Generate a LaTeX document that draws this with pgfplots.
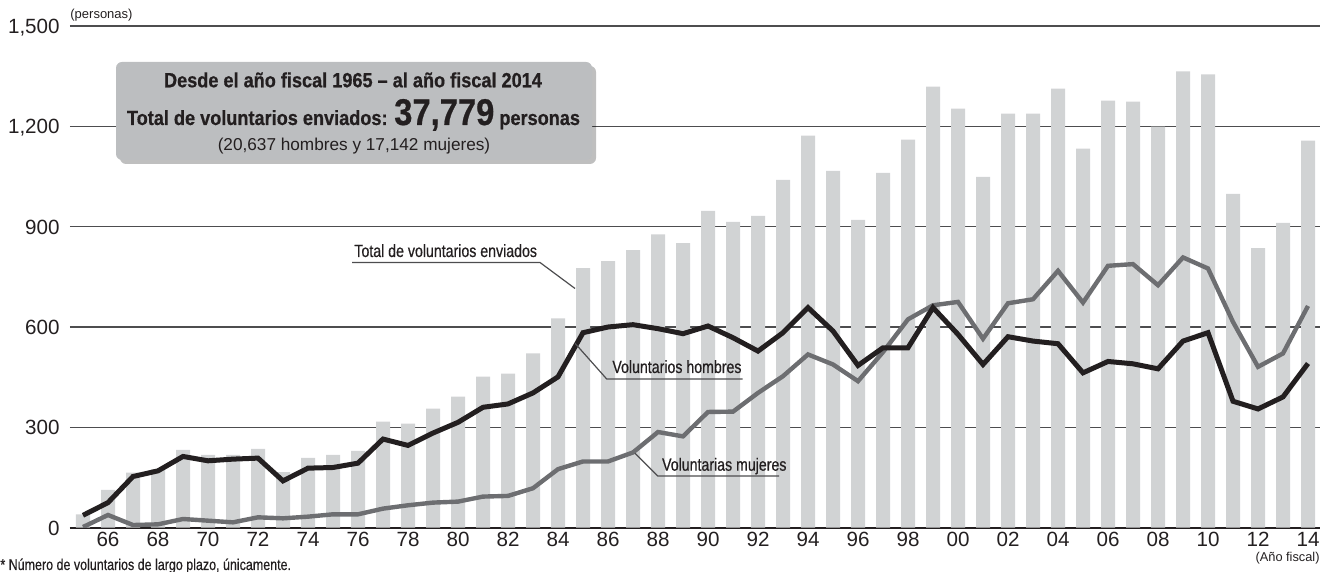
\documentclass[border=0pt]{standalone}
\usepackage{fontspec}
\setmainfont{Liberation Sans}
\newfontfamily\condfont[FakeStretch=0.8, FakeBold=0.5]{Liberation Sans}
\newfontface\boxbold[FakeStretch=0.88, FakeBold=0.6]{Liberation Sans Bold}
\usepackage{pgfplots}
\pgfplotsset{compat=1.18}
\usetikzlibrary{shadows}

\definecolor{barcol}{HTML}{D1D3D4}
\definecolor{mencol}{HTML}{231F20}
\definecolor{womencol}{HTML}{6D6E71}
\definecolor{gridcol}{HTML}{4D4D4F}
\definecolor{boxcol}{HTML}{BCBEC0}
\definecolor{textcol}{HTML}{231F20}

% index 0 = fiscal year 1965 ... 49 = 2014
\pgfplotstableread{
x total men women
0 40 37 2
1 113 75 38
2 165 153 8
3 175 170 10
4 233 213 26
5 218 200 21
6 218 205 16
7 236 208 31
8 166 140 28
9 209 178 33
10 218 180 40
11 230 193 40
12 317 265 57
13 311 246 67
14 356 283 75
15 392 315 78
16 452 360 93
17 461 370 95
18 521 403 118
19 626 451 175
20 776 583 198
21 797 600 198
22 830 607 225
23 877 595 286
24 851 580 273
25 947 603 346
26 914 568 347
27 932 528 403
28 1040 583 453
29 1172 658 518
30 1067 588 488
31 920 485 438
32 1061 538 525
33 1160 538 623
34 1319 658 665
35 1253 578 675
36 1049 488 565
37 1238 571 671
38 1238 558 683
39 1313 550 768
40 1133 463 673
41 1277 497 783
42 1274 490 788
43 1199 475 725
44 1364 558 808
45 1355 583 775
46 998 378 615
47 836 355 481
48 911 391 521
49 1157 491 663
}\datatable

\begin{document}
\begin{tikzpicture}
\begin{axis}[
  at={(0,0)}, anchor=south west,
  scale only axis,
  width=625pt, height=250.85pt,
  xmin=-0.52, xmax=49.48,
  ymin=0, ymax=1500,
  axis x line*=bottom, axis y line*=left,
  x axis line style={line width=1pt, color=mencol},
  y axis line style={draw=none},
  ytick={0,300,600,900,1200,1500},
  yticklabels={0,300,600,900,{1,200},{1,500}},
  xtick={1,3,...,49},
  xticklabels={66,68,70,72,74,76,78,80,82,84,86,88,90,92,94,96,98,00,02,04,06,08,10,12,14},
  ymajorgrids,
  grid style={color=gridcol, line width=0.6pt},
  major tick length=0pt,
  tick style={draw=none},
  /pgf/number format/assume math mode=true,
  tick label style={font=\fontsize{10.3}{12}\selectfont, text=textcol},
  yticklabel style={anchor=base east, inner sep=0pt, xshift=-5pt, yshift=-3.7pt},
  xticklabel style={anchor=north, inner sep=0pt, yshift=-2.2pt},
]
\addplot[ybar, bar width=7pt, fill=barcol, draw=none] table[x=x, y=total] {\datatable};
\addplot[womencol, line width=2.2pt, mark=none] table[x=x, y=women] {\datatable};
\addplot[mencol, line width=2.5pt, mark=none] table[x=x, y=men] {\datatable};
\end{axis}

% summary box
\path[fill=boxcol, rounded corners=3pt,
  drop shadow={shadow xshift=2pt, shadow yshift=-2pt, fill=black, opacity=0.25}]
  (23pt,183.85pt) rectangle (261pt,232.85pt);
\node[anchor=base, inner sep=0pt, text=textcol] at (141.5pt,220.2pt)
  {\boxbold\fontsize{10.3}{12}\selectfont Desde el año fiscal 1965 – al año fiscal 2014};
\node[anchor=base, inner sep=0pt, text=textcol] at (141.75pt,201.35pt)
  {\boxbold\fontsize{10.3}{12}\selectfont Total de voluntarios enviados: {\fontsize{18.6}{20}\selectfont 37,779} personas};
\node[anchor=base, inner sep=0pt, text=textcol] at (142pt,188.5pt)
  {\fontsize{8.6}{10}\selectfont (20,637 hombres y 17,142 mujeres)};

% series callouts
\draw[gridcol, line width=0.6pt] (141pt,132.6pt) -- (235pt,132.6pt) -- (252.5pt,119.6pt);
\node[anchor=base west, inner sep=0pt, text=textcol] at (142pt,135.35pt)
  {\condfont\fontsize{8.85}{10}\selectfont Total de voluntarios enviados};
\draw[gridcol, line width=0.6pt] (336.35pt,74.35pt) -- (268.35pt,74.35pt) -- (252.5pt,92.2pt);
\node[anchor=base west, inner sep=0pt, text=textcol] at (271pt,77.35pt)
  {\condfont\fontsize{8.85}{10}\selectfont Voluntarios hombres};
\draw[gridcol, line width=0.6pt] (354.5pt,25.85pt) -- (293.85pt,25.85pt) -- (282.5pt,37.2pt);
\node[anchor=base west, inner sep=0pt, text=textcol] at (295.85pt,28.5pt)
  {\condfont\fontsize{8.85}{10}\selectfont Voluntarias mujeres};

% units and footnote
\node[anchor=base west, inner sep=0pt, text=textcol] at (0pt,254.35pt)
  {\fontsize{6.5}{8}\selectfont (personas)};
\node[anchor=base east, inner sep=0pt, text=textcol] at (625pt,-17.15pt)
  {\fontsize{6.4}{8}\selectfont (Año fiscal)};
\node[anchor=base west, inner sep=0pt, text=textcol] at (-35pt,-21.15pt)
  {\condfont\fontsize{7.8}{9}\selectfont * Número de voluntarios de largo plazo, únicamente.};

\pgfresetboundingbox
\useasboundingbox (-35pt,-22.15pt) rectangle (631pt,263.85pt);
\end{tikzpicture}
\end{document}
